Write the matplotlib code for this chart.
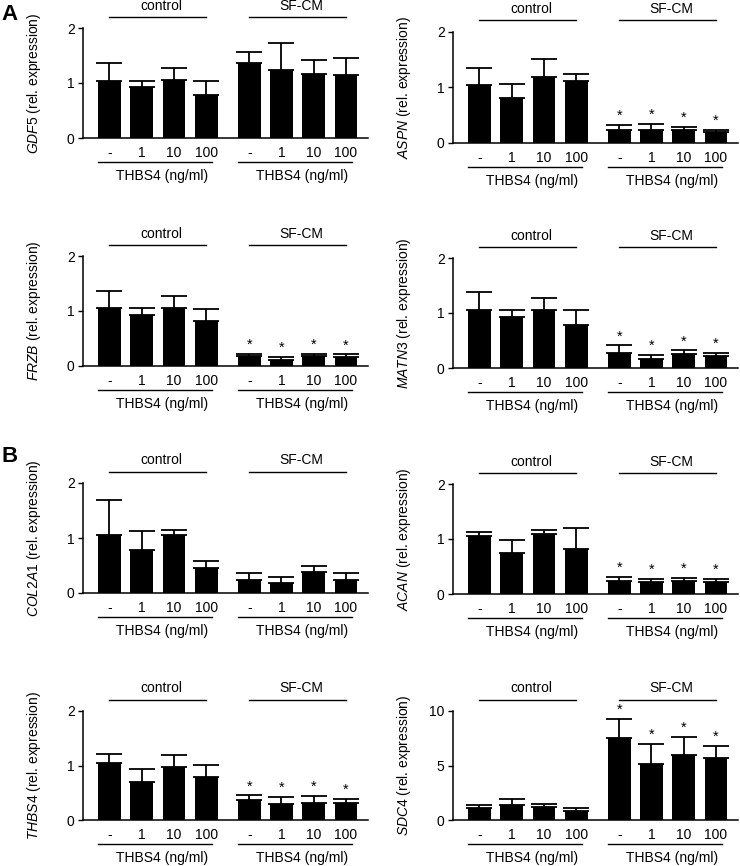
import matplotlib
matplotlib.use("Agg")
import matplotlib.pyplot as plt
import matplotlib.transforms as mtransforms
import numpy as np

plt.rcParams['font.family'] = ['Liberation Sans', 'DejaVu Sans']
plt.rcParams['mathtext.fontset'] = 'custom'
plt.rcParams['mathtext.it'] = 'Liberation Sans:italic'
plt.rcParams['mathtext.rm'] = 'Liberation Sans'

# ---- data ----
dose_labels = ["-", "1", "10", "100"]
group_labels = ["control", "SF-CM"]
axis_title = "THBS4 (ng/ml)"

gdf5_mean = [1.04, 0.92, 1.06, 0.78, 1.37, 1.23, 1.17, 1.14]
gdf5_err = [0.32, 0.12, 0.21, 0.26, 0.20, 0.50, 0.25, 0.32]
aspn_mean = [1.05, 0.81, 1.19, 1.11, 0.23, 0.23, 0.24, 0.19]
aspn_err = [0.30, 0.25, 0.33, 0.13, 0.09, 0.11, 0.05, 0.05]
frzb_mean = [1.05, 0.92, 1.06, 0.81, 0.18, 0.10, 0.19, 0.16]
frzb_err = [0.32, 0.13, 0.21, 0.23, 0.04, 0.06, 0.03, 0.05]
matn3_mean = [1.05, 0.92, 1.06, 0.79, 0.28, 0.17, 0.25, 0.21]
matn3_err = [0.33, 0.13, 0.21, 0.26, 0.13, 0.07, 0.07, 0.06]
col2a1_mean = [1.05, 0.79, 1.05, 0.45, 0.23, 0.18, 0.38, 0.23]
col2a1_err = [0.65, 0.33, 0.09, 0.14, 0.13, 0.12, 0.11, 0.13]
acan_mean = [1.05, 0.74, 1.09, 0.82, 0.23, 0.21, 0.23, 0.21]
acan_err = [0.08, 0.24, 0.08, 0.38, 0.08, 0.06, 0.07, 0.07]
thbs4_mean = [1.05, 0.69, 0.98, 0.78, 0.36, 0.30, 0.31, 0.31]
thbs4_err = [0.16, 0.25, 0.22, 0.23, 0.09, 0.13, 0.13, 0.07]
sdc4_mean = [1.1, 1.4, 1.15, 0.8, 7.5, 5.1, 6.0, 5.7]
sdc4_err = [0.25, 0.55, 0.30, 0.30, 1.8, 1.9, 1.6, 1.1]

sig_none = [False] * 8
sig_sfcm = [False] * 4 + [True] * 4

# (gene, mean, err, significance, yticks, axes box in px: left, top, bottom)
panels = [
    ("GDF5", gdf5_mean, gdf5_err, sig_none, [0, 1, 2], (83, 28, 138)),
    ("ASPN", aspn_mean, aspn_err, sig_sfcm, [0, 1, 2], (453, 32, 143)),
    ("FRZB", frzb_mean, frzb_err, sig_sfcm, [0, 1, 2], (83, 256, 366)),
    ("MATN3", matn3_mean, matn3_err, sig_sfcm, [0, 1, 2], (453, 258, 368)),
    ("COL2A1", col2a1_mean, col2a1_err, sig_none, [0, 1, 2], (83, 483, 593)),
    ("ACAN", acan_mean, acan_err, sig_sfcm, [0, 1, 2], (453, 484, 594)),
    ("THBS4", thbs4_mean, thbs4_err, sig_sfcm, [0, 1, 2], (83, 711, 820)),
    ("SDC4", sdc4_mean, sdc4_err, sig_sfcm, [0, 5, 10], (453, 711, 820)),
]

W, H = 740, 866
fig = plt.figure(figsize=(W / 100, H / 100), dpi=100)

x = np.array([0, 1, 2, 3, 4.33, 5.33, 6.33, 7.33])
groups = [x[:4], x[4:]]
axw = 285


def shifted(ax, dy):
    return mtransforms.offset_copy(ax.get_xaxis_transform(), fig=fig, y=dy, units="dots")


for gene, mean, err, sig, yt, (left, top, bot) in panels:
    ax = fig.add_axes([left / W, 1 - bot / H, axw / W, (bot - top) / H])
    ymax = yt[-1]
    ax.bar(x, mean, width=0.7, color="black", zorder=2)
    ax.errorbar(x, mean, yerr=[np.zeros(len(mean)), err], fmt="none",
                ecolor="black", elinewidth=1.3, capsize=9.5, capthick=1.3, zorder=1)
    for xi, m, e, s in zip(x, mean, err, sig):
        if s:
            ax.annotate("*", (xi, m + e), xytext=(0, 1.5), textcoords="offset points",
                        ha="center", va="bottom", fontsize=10.5, annotation_clip=False)

    ax.set_xlim(-0.82, 8.01)
    ax.set_ylim(0, ymax)
    ax.set_yticks(yt)
    ax.set_yticklabels([str(t) for t in yt], fontsize=10)
    ax.set_xticks(x)
    ax.set_xticklabels(dose_labels * 2, fontsize=10)
    ax.tick_params(axis="x", length=0, pad=6)
    ax.tick_params(axis="y", length=3.5, width=1, pad=2.5)
    for side in ["top", "right"]:
        ax.spines[side].set_visible(False)
    for side in ["left", "bottom"]:
        ax.spines[side].set_linewidth(1.1)
    ax.set_ylabel(r"$\mathit{" + gene + r"}$ (rel. expression)", fontsize=10)
    ax.yaxis.set_label_coords(-0.14, 0.5)

    for g, name in zip(groups, group_labels):
        ax.plot([g[0], g[-1]], [1, 1], color="black", lw=1, transform=shifted(ax, 11.5),
                clip_on=False)
        ax.text(g.mean() + 0.1, 1, name, transform=shifted(ax, 22.5), ha="center",
                va="center", fontsize=10, clip_on=False)
        ax.plot([g[0] - 0.35, g[-1] + 0.18], [0, 0], color="black", lw=1,
                transform=shifted(ax, -24), clip_on=False)
        ax.text(g.mean() + 0.13, 0, axis_title, transform=shifted(ax, -38), ha="center",
                va="center", fontsize=10, clip_on=False)

fig.text(10 / W, 1 - 14 / H, "A", fontsize=16, fontweight="bold", ha="center", va="center")
fig.text(10 / W, 1 - 456 / H, "B", fontsize=16, fontweight="bold", ha="center", va="center")

fig.savefig("out.png", dpi=100)
